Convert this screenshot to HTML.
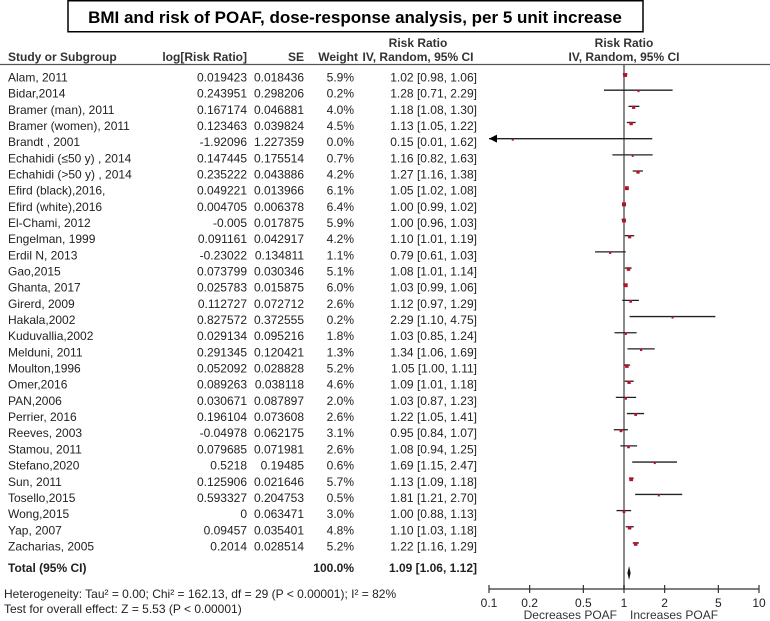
<!DOCTYPE html>
<html><head><meta charset="utf-8"><style>
body{margin:0;background:#fff;}
svg{display:block;font-family:"Liberation Sans",Arial,sans-serif;}
</style></head><body>
<svg id="c" width="770" height="621" viewBox="0 0 770 621">
<rect x="68" y="0.75" width="575" height="31" fill="none" stroke="#000" stroke-width="1.5"/>
<text x="355" y="23" text-anchor="middle" font-size="17" font-weight="bold">BMI and risk of POAF, dose-response analysis, per 5 unit increase</text>
<g font-size="12" font-weight="bold" fill="#333">
<text x="8" y="61">Study or Subgroup</text>
<text x="247" y="61" text-anchor="end">log[Risk Ratio]</text>
<text x="304" y="61" text-anchor="end">SE</text>
<text x="358" y="61" text-anchor="end">Weight</text>
<text x="418" y="47" text-anchor="middle">Risk Ratio</text>
<text x="418" y="61" text-anchor="middle">IV, Random, 95% CI</text>
<text x="624" y="47" text-anchor="middle">Risk Ratio</text>
<text x="624" y="61" text-anchor="middle">IV, Random, 95% CI</text>
</g>
<line x1="0" y1="64.5" x2="770" y2="64.5" stroke="#555" stroke-width="1.2"/>
<g id="rows"></g>
<g id="plot"></g>
<g font-size="12" fill="#222">
<text x="8" y="572" font-weight="bold">Total (95% CI)</text>
<text x="354" y="572" text-anchor="end" font-weight="bold">100.0%</text>
<text x="477" y="572" text-anchor="end" font-weight="bold">1.09 [1.06, 1.12]</text>
<text x="4" y="598">Heterogeneity: Tau² = 0.00; Chi² = 162.13, df = 29 (P &lt; 0.00001); I² = 82%</text>
<text x="4" y="613">Test for overall effect: Z = 5.53 (P &lt; 0.00001)</text>
</g>
</svg>
<script>
const studies=["Alam, 2011","Bidar,2014","Bramer (man), 2011","Bramer (women), 2011","Brandt , 2001","Echahidi (≤50 y) , 2014","Echahidi (>50 y) , 2014","Efird (black),2016,","Efird (white),2016","El-Chami, 2012","Engelman, 1999","Erdil N, 2013","Gao,2015","Ghanta, 2017","Girerd, 2009","Hakala,2002","Kuduvallia,2002","Melduni, 2011","Moulton,1996","Omer,2016","PAN,2006","Perrier, 2016","Reeves, 2003","Stamou, 2011","Stefano,2020","Sun, 2011","Tosello,2015","Wong,2015","Yap, 2007","Zacharias, 2005"];
const logRR=["0.019423","0.243951","0.167174","0.123463","-1.92096","0.147445","0.235222","0.049221","0.004705","-0.005","0.091161","-0.23022","0.073799","0.025783","0.112727","0.827572","0.029134","0.291345","0.052092","0.089263","0.030671","0.196104","-0.04978","0.079685","0.5218","0.125906","0.593327","0","0.09457","0.2014"];
const seVals=["0.018436","0.298206","0.046881","0.039824","1.227359","0.175514","0.043886","0.013966","0.006378","0.017875","0.042917","0.134811","0.030346","0.015875","0.072712","0.372555","0.095216","0.120421","0.028828","0.038118","0.087897","0.073608","0.062175","0.071981","0.19485","0.021646","0.204753","0.063471","0.035401","0.028514"];
const weights=[5.9,0.2,4.0,4.5,0.0,0.7,4.2,6.1,6.4,5.9,4.2,1.1,5.1,6.0,2.6,0.2,1.8,1.3,5.2,4.6,2.0,2.6,3.1,2.6,0.6,5.7,0.5,3.0,4.8,5.2];
const rr=[1.02,1.28,1.18,1.13,0.15,1.16,1.27,1.05,1.00,1.00,1.10,0.79,1.08,1.03,1.12,2.29,1.03,1.34,1.05,1.09,1.03,1.22,0.95,1.08,1.69,1.13,1.81,1.00,1.10,1.22];
const lo=[0.98,0.71,1.08,1.05,0.01,0.82,1.16,1.02,0.99,0.96,1.01,0.61,1.01,0.99,0.97,1.10,0.85,1.06,1.00,1.01,0.87,1.05,0.84,0.94,1.15,1.09,1.21,0.88,1.03,1.16];
const hi=[1.06,2.29,1.30,1.22,1.62,1.63,1.38,1.08,1.02,1.03,1.19,1.03,1.14,1.06,1.29,4.75,1.24,1.69,1.11,1.18,1.23,1.41,1.07,1.25,2.47,1.18,2.70,1.13,1.18,1.29];
const total=[1.09,1.06,1.12];
const ticks=[0.1,0.2,0.5,1,2,5,10];
const NS="http://www.w3.org/2000/svg";
const X0=489,X1=759;
const xs=v=>X0+(Math.log10(Math.max(v,0.1))+1)/2*(X1-X0);
const rowY=i=>77+i*16.17;
const fmt=v=>v.toFixed(2);
function mk(tag,attrs,parent,txt){const e=document.createElementNS(NS,tag);for(const k in attrs)e.setAttribute(k,attrs[k]);if(txt!==undefined)e.textContent=txt;parent.appendChild(e);return e;}
const rows=document.getElementById('rows'),plot=document.getElementById('plot');
const ref=mk('line',{x1:xs(1),x2:xs(1),y1:65,y2:589,stroke:'#8a8a8a','stroke-width':2},plot);


studies.forEach((s,i)=>{
  const y=rowY(i),b=y+4.5;
  const g=mk('g',{'font-size':12,fill:'#222'},rows);
  
  
  mk('text',{x:8,y:b},g,s);
  mk('text',{x:247,y:b,'text-anchor':'end'},g,logRR[i]);
  mk('text',{x:304,y:b,'text-anchor':'end'},g,seVals[i]);
  mk('text',{x:354,y:b,'text-anchor':'end'},g,weights[i].toFixed(1)+'%');
  mk('text',{x:477,y:b,'text-anchor':'end'},g,fmt(rr[i])+' ['+fmt(lo[i])+', '+fmt(hi[i])+']');
  const my=y-3;
  const ci=mk('line',{x1:xs(lo[i]),x2:xs(hi[i]),y1:my,y2:my,stroke:'#222','stroke-width':1.3},plot);
  
  
  if(lo[i]<0.1){
    const ar=mk('path',{d:`M${X0},${my} l8,-4 v8 z`,fill:'#000'},plot);
    
    
  }
  const sz=Math.max(2,1.8+weights[i]*0.35);
  const sq=mk('rect',{x:xs(rr[i])-sz/2,y:my-sz/2+1,width:sz,height:sz,fill:'#b8102a'},plot);
  
  
});
const dy=573;
const dia=mk('path',{d:`M${xs(total[1])},${dy} L${xs(total[0])},${dy-7} L${xs(total[2])},${dy} L${xs(total[0])},${dy+7} Z`,fill:'#111'},plot);


const ax=mk('line',{x1:X0,x2:X1,y1:589,y2:589,stroke:'#333','stroke-width':1.2},plot);


ticks.forEach(t=>{
  const tk=mk('line',{x1:xs(t),x2:xs(t),y1:585,y2:593,stroke:'#333','stroke-width':1.2},plot);
  
  
  const tl=mk('text',{x:xs(t),y:607,'text-anchor':'middle','font-size':12,fill:'#222'},plot,String(t));
  
  
});
const d1=mk('text',{x:617,y:619,'text-anchor':'end','font-size':12,fill:'#333'},plot,'Decreases POAF');


const d2=mk('text',{x:630,y:619,'font-size':12,fill:'#333'},plot,'Increases POAF');


</script>
</body></html>
